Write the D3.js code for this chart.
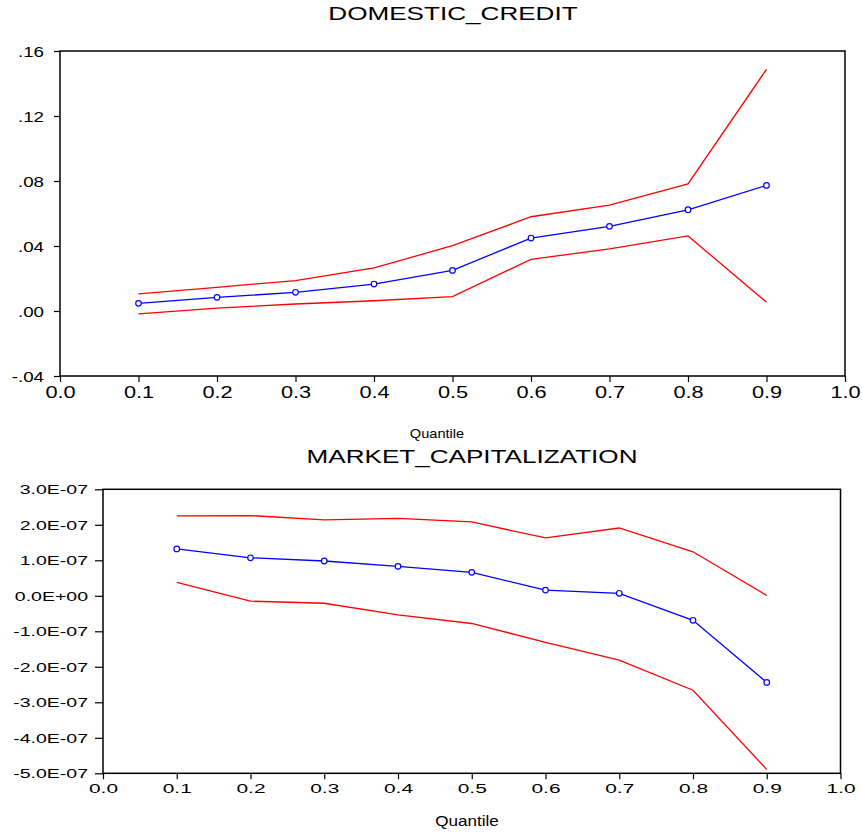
<!DOCTYPE html>
<html>
<head>
<meta charset="utf-8">
<script src="https://cdn.jsdelivr.net/npm/d3@7"></script>
<style>
  body { margin: 0; background: #fff; }
  svg { display: block; }
  text { font-family: Arial, "Liberation Sans", sans-serif; fill: #000; }
</style>
</head>
<body>
<div id="chart"></div>
<script>
// quantiles on the x axis
const quantiles = [0.1, 0.2, 0.3, 0.4, 0.5, 0.6, 0.7, 0.8, 0.9];
const xTicks = [0, 0.1, 0.2, 0.3, 0.4, 0.5, 0.6, 0.7, 0.8, 0.9, 1.0];

// DOMESTIC_CREDIT: coefficient and confidence band
const creditCoef  = [0.0047, 0.0084, 0.0115, 0.0166, 0.0250, 0.0449, 0.0521, 0.0623, 0.0773];
const creditUpper = [0.0105, 0.0146, 0.0187, 0.0265, 0.0402, 0.0580, 0.0652, 0.0782, 0.1487];
const creditLower = [-0.0018, 0.0018, 0.0043, 0.0063, 0.0088, 0.0318, 0.0382, 0.0462, 0.0054];
const creditTicks = [-0.04, 0, 0.04, 0.08, 0.12, 0.16];

// MARKET_CAPITALIZATION: coefficient and confidence band
const marketCoef  = [1.32e-7, 1.07e-7, 0.98e-7, 0.83e-7, 0.66e-7, 0.16e-7, 0.07e-7, -0.69e-7, -2.44e-7];
const marketUpper = [2.25e-7, 2.26e-7, 2.14e-7, 2.18e-7, 2.08e-7, 1.63e-7, 1.91e-7, 1.24e-7, 0.01e-7];
const marketLower = [0.38e-7, -0.15e-7, -0.21e-7, -0.54e-7, -0.78e-7, -1.31e-7, -1.81e-7, -2.66e-7, -4.89e-7];
const marketTicks = [-5e-7, -4e-7, -3e-7, -2e-7, -1e-7, 0, 1e-7, 2e-7, 3e-7];

const svg = d3.select("#chart").append("svg")
    .attr("width", 862)
    .attr("height", 833);

// EViews style labels: ".16", "-.04"
function fmtCredit(v) {
    let s = Math.abs(v) < 1e-12 ? "0.00" : v.toFixed(2);
    return s.replace(/^0\./, ".").replace(/^-0\./, "-.");
}
// "3.0E-07", "0.0E+00"
function fmtMarket(v) {
    let s = v.toExponential(1);
    let parts = s.split("e");
    let e = parseInt(parts[1]);
    let sign = e < 0 ? "-" : "+";
    return parts[0] + "E" + sign + String(Math.abs(e)).padStart(2, "0");
}

function drawPanel(p) {
    const xScale = d3.scaleLinear().domain([0, 1]).range([p.left, p.right]);
    const yScale = d3.scaleLinear().domain(p.yDomain).range([p.bottom, p.top]);

    const g = svg.append("g");

    // title
    g.append("text")
        .attr("transform", "translate(" + p.titleX + "," + p.titleY + ") scale(1.45,1)")
        .attr("text-anchor", "middle")
        .style("font-size", "18px")
        .text(p.title);

    // left axis
    const yAxis = g.append("g")
        .attr("transform", "translate(" + p.left + ",0)")
        .call(d3.axisLeft(yScale).tickValues(p.yTicks).tickFormat(p.yFormat)
            .tickSize(p.yTickSize).tickPadding(0));
    yAxis.select(".domain").remove();
    yAxis.selectAll(".tick line").attr("stroke", "#000").attr("stroke-width", 1.2);
    yAxis.selectAll(".tick text")
        .attr("x", null)
        .attr("dy", "0.35em")
        .attr("transform", "translate(" + (-p.yLabelGap) + ",0) scale(" + p.yLabelScale + ",1)")
        .style("font-size", p.yFont + "px");

    // bottom axis
    const xAxis = g.append("g")
        .attr("transform", "translate(0," + p.bottom + ")")
        .call(d3.axisBottom(xScale).tickValues(xTicks).tickFormat(d => d.toFixed(1))
            .tickSize(6).tickPadding(0));
    xAxis.select(".domain").remove();
    xAxis.selectAll(".tick line").attr("stroke", "#000").attr("stroke-width", 1.2);
    xAxis.selectAll(".tick text")
        .attr("y", null)
        .attr("dy", null)
        .attr("transform", "translate(0," + p.xLabelY + ") scale(" + p.xLabelScale + ",1)")
        .style("font-size", p.xFont + "px");

    // plot frame
    g.append("rect")
        .attr("x", p.left)
        .attr("y", p.top)
        .attr("width", p.right - p.left)
        .attr("height", p.bottom - p.top)
        .attr("fill", "none")
        .attr("stroke", "#000")
        .attr("stroke-width", 1.5);

    const line = d3.line()
        .x((d, i) => xScale(quantiles[i]))
        .y(d => yScale(d));

    // confidence bounds
    [p.upper, p.lower].forEach(arr => {
        g.append("path")
            .datum(arr)
            .attr("d", line)
            .attr("fill", "none")
            .attr("stroke", "#ff0000")
            .attr("stroke-width", 1.3);
    });

    // coefficient line with open markers
    g.append("path")
        .datum(p.coef)
        .attr("d", line)
        .attr("fill", "none")
        .attr("stroke", "#0000ff")
        .attr("stroke-width", 1.3);

    g.selectAll(".dot")
        .data(p.coef)
        .enter()
        .append("circle")
        .attr("class", "dot")
        .attr("cx", (d, i) => xScale(quantiles[i]))
        .attr("cy", d => yScale(d))
        .attr("r", 2.8)
        .attr("fill", "#fff")
        .attr("stroke", "#0000ff")
        .attr("stroke-width", 1.2);

    // x axis title
    g.append("text")
        .attr("transform", "translate(" + p.qX + "," + p.qY + ") scale(" + p.qScale + ",1)")
        .attr("text-anchor", "middle")
        .style("font-size", p.qFont + "px")
        .text("Quantile");
}

drawPanel({
    title: "DOMESTIC_CREDIT", titleX: 453, titleY: 20,
    left: 60, right: 845, top: 51, bottom: 376,
    yDomain: [-0.04, 0.16], yTicks: creditTicks, yFormat: fmtCredit,
    yTickSize: 6, yLabelGap: 16, yLabelScale: 1.25, yFont: 15,
    xLabelY: 22, xLabelScale: 1.36, xFont: 16,
    qX: 437, qY: 438, qScale: 1.08, qFont: 13.5,
    coef: creditCoef, upper: creditUpper, lower: creditLower
});

drawPanel({
    title: "MARKET_CAPITALIZATION", titleX: 472, titleY: 462.5,
    left: 103, right: 840.5, top: 489.3, bottom: 773.3,
    yDomain: [-5e-7, 3e-7], yTicks: marketTicks, yFormat: fmtMarket,
    yTickSize: 8, yLabelGap: 15, yLabelScale: 1.5, yFont: 13,
    xLabelY: 19.5, xLabelScale: 1.55, xFont: 13.5,
    qX: 467, qY: 826, qScale: 1.22, qFont: 14,
    coef: marketCoef, upper: marketUpper, lower: marketLower
});
</script>
</body>
</html>
